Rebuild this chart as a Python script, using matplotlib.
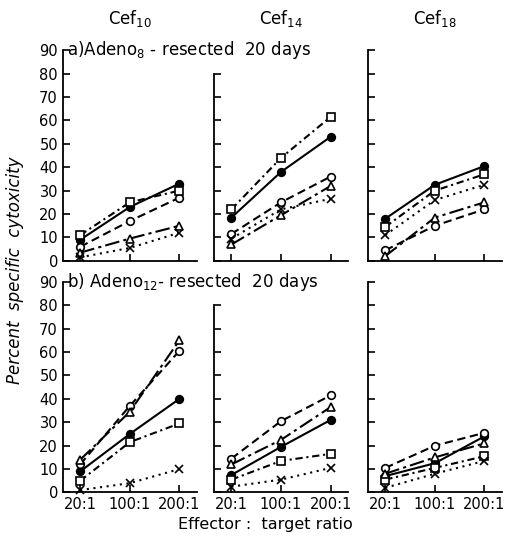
import matplotlib
matplotlib.use('Agg')
import matplotlib.pyplot as plt

ratios = ['20:1', '100:1', '200:1']
columns = ['Cef$_{10}$', 'Cef$_{14}$', 'Cef$_{18}$']
row_labels = ['a)Adeno$_8$ - resected  20 days',
              'b) Adeno$_{12}$- resected  20 days']

# top row: Adeno8, one list per Cef column
a_filled = [[9, 23, 33], [18.5, 38, 53], [18, 32.5, 40.5]]
a_open = [[6, 17, 27], [11.5, 25, 36], [4.5, 15, 22]]
a_square = [[11, 25, 30], [22, 44, 61.5], [14.5, 30, 37]]
a_tri = [[3.5, 9.5, 15], [7, 19.5, 32], [2, 18.5, 25]]
a_x = [[1.5, 5.5, 12], [9.5, 22, 26.5], [11, 26, 32.5]]

# bottom row: Adeno12
b_filled = [[9, 25, 40], [7.5, 19.5, 31], [7, 12.5, 24]]
b_open = [[12, 37, 60.5], [14.5, 30.5, 41.5], [10.5, 20, 25.5]]
b_square = [[5, 21.5, 29.5], [5.5, 13.5, 16.5], [5.5, 10.5, 15.5]]
b_tri = [[14, 34.5, 65], [12, 22.5, 36.5], [8, 15, 21]]
b_x = [[1, 4, 10], [2.5, 5.5, 10.5], [2, 8, 13.5]]

series_style = [
    ('filled', dict(marker='o', mfc='black', ls='-')),
    ('open', dict(marker='o', mfc='white', ls=(0, (4, 2.2)))),
    ('square', dict(marker='s', mfc='white', ls=(0, (3.5, 1.8, 1, 1.8)))),
    ('tri', dict(marker='^', mfc='white', ls=(0, (7, 2, 1.5, 2)))),
    ('x', dict(marker='x', mfc='black', ls=(0, (1, 2.2)))),
]
rows = [
    {'filled': a_filled, 'open': a_open, 'square': a_square, 'tri': a_tri, 'x': a_x},
    {'filled': b_filled, 'open': b_open, 'square': b_square, 'tri': b_tri, 'x': b_x},
]

fig = plt.figure(figsize=(5.11, 5.40), dpi=100)
lefts = [0.123, 0.419, 0.72]
bottoms = [0.517, 0.088]
w, h = 0.262, 0.39
xpos = [0, 1, 2]

for r in range(2):
    for c in range(3):
        ax = fig.add_axes([lefts[c], bottoms[r], w, h])
        for name, st in series_style:
            ax.plot(xpos, rows[r][name][c], color='black', lw=1.5,
                    marker=st['marker'], mfc=st['mfc'], mec='black',
                    mew=1.2, ms=5.5, ls=st['ls'], clip_on=False)
        ax.set_xlim(-0.35, 2.35)
        ax.set_ylim(0, 90)
        ax.spines['top'].set_visible(False)
        ax.spines['right'].set_visible(False)
        ax.spines['left'].set_linewidth(1.3)
        ax.spines['bottom'].set_linewidth(1.3)
        top = 80 if c == 1 else 90
        ax.spines['left'].set_bounds(0, top)
        ax.set_yticks(range(0, top + 1, 10))
        ax.set_xticks(xpos)
        ax.tick_params(direction='in', length=5, width=1.2, labelsize=10.5)
        if c == 0:
            ax.set_yticklabels([str(v) for v in range(0, top + 1, 10)])
        else:
            ax.set_yticklabels([])
        if r == 1:
            ax.set_xticklabels(ratios)
        else:
            ax.set_xticklabels([])
        if r == 0:
            ax.set_title(columns[c], fontsize=12, pad=19)

# row labels sit across the first two panels, at the 90 level
fig.text(0.131, bottoms[0] + h, row_labels[0], fontsize=12, va='center', ha='left')
fig.text(0.131, bottoms[1] + h, row_labels[1], fontsize=12, va='center', ha='left')

fig.text(0.03, 0.5, 'Percent  specific  cytoxicity', rotation=90,
         fontsize=12, style='italic', ha='center', va='center')
fig.text(0.52, 0.028, 'Effector :  target ratio', fontsize=11.5,
         ha='center', va='center')

fig.savefig('out.png', dpi=100)
